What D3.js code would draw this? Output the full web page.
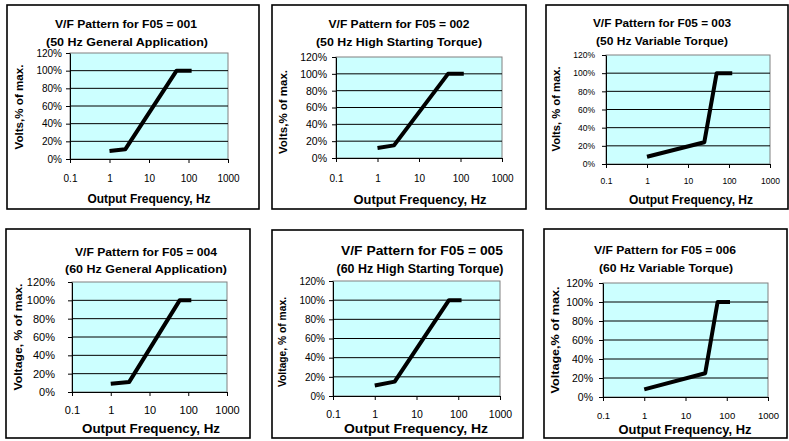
<!DOCTYPE html>
<html><head><meta charset="utf-8">
<script src="https://cdn.jsdelivr.net/npm/d3@7"></script>
<style>
body{margin:0;background:#fff}
text{font-family:"Liberation Sans",Arial,sans-serif}
</style>
</head><body>
<svg id="c" width="789" height="441"></svg>
<script>
// ---------- data ----------
const freqTicks = [0.1, 1, 10, 100, 1000];
const voltTicks = [0, 0.2, 0.4, 0.6, 0.8, 1.0, 1.2];
const patternCodes = ["001", "002", "003", "004", "005", "006"];
const subtitles = ["(50 Hz General Application)", "(50 Hz High Starting Torque)", "(50 Hz Variable Torque)",
                   "(60 Hz General Application)", "(60 Hz High Starting Torque)", "(60 Hz Variable Torque)"];
const yTitles = ["Volts,% of max.", "Volts,% of max.", "Volts, % of max.",
                 "Voltage, % of max.", "Voltage, % of max.", "Voltage,% of max."];
const xTitle = "Output Frequency, Hz";

const hz001 = [1, 2.5, 50, 120], volt001 = [0.09, 0.11, 1.0, 1.0];
const hz002 = [1, 2.5, 50, 120], volt002 = [0.12, 0.15, 1.0, 1.0];
const hz003 = [1, 25, 50, 120],  volt003 = [0.08, 0.24, 1.0, 1.0];
const hz004 = [1, 3, 60, 120],   volt004 = [0.09, 0.11, 1.0, 1.0];
const hz005 = [1, 3, 60, 120],   volt005 = [0.11, 0.15, 1.0, 1.0];
const hz006 = [1, 30, 60, 120],  volt006 = [0.08, 0.25, 1.0, 1.0];
const seriesHz = [hz001, hz002, hz003, hz004, hz005, hz006];
const seriesVolt = [volt001, volt002, volt003, volt004, volt005, volt006];

// ---------- layout (pixels) ----------
const layouts = [
 {box:[7,5,259,209], plot:[70,53,228,159], t1:[126,28,142,11], t2:[127,46,162,11], xt:[149,203,123,12], yl:[23,107,85], tb:182, tf:10, tr:62, yf:10},
 {box:[272,5,526,209], plot:[336,57,502,158], t1:[399,28,141,11], t2:[399,46,166,11], xt:[420,204,133,12.5], yl:[287,112,84], tb:182, tf:10, tr:327, yf:10.5},
 {box:[546,5,788,209], plot:[606,55,770,164], t1:[662,27,138,11], t2:[662,45,132,11], xt:[691,204,124,12], yl:[560,109,85], tb:184, tf:8.5, tr:595, yf:8.5},
 {box:[6,229,250,438], plot:[72,282,227,392], t1:[146,256,142,11], t2:[146,273,162,11], xt:[151,433,138,13], yl:[22,337,107], tb:414, tf:11, tr:55, yf:11},
 {box:[272,230,523,438], plot:[333,281,500,396], t1:[422,255,162,12.5], t2:[420,273,167,12], xt:[416,433,144,13.5], yl:[286,342,90], tb:418, tf:10.5, tr:325, yf:10},
 {box:[544,229,787,438], plot:[603,283,768,397], t1:[665,254,142,11], t2:[666,272,134,11], xt:[685,434,133,13.5], yl:[559,340,107], tb:419, tf:9.5, tr:593, yf:10.5}
];

const svg = d3.select("#c");

layouts.forEach((L, i) => {
  const g = svg.append("g");
  const [bx0, by0, bx1, by1] = L.box;
  const [px0, py0, px1, py1] = L.plot;

  g.append("rect").attr("x", bx0).attr("y", by0).attr("width", bx1 - bx0).attr("height", by1 - by0)
    .attr("fill", "#fff").attr("stroke", "#000").attr("stroke-width", 1.6);

  const x = d3.scaleLog().domain([0.1, 1000]).range([px0, px1]);
  const y = d3.scaleLinear().domain([0, 1.2]).range([py1, py0]);

  g.append("rect").attr("x", px0).attr("y", py0).attr("width", px1 - px0).attr("height", py1 - py0)
    .attr("fill", "#ccffff").attr("stroke", "#808080").attr("stroke-width", 1);

  // gridlines
  g.append("g").selectAll("line").data(voltTicks.filter(v => v > 0 && v < 1.2)).join("line")
    .attr("x1", px0).attr("x2", px1).attr("y1", d => y(d)).attr("y2", d => y(d))
    .attr("stroke", "#000").attr("stroke-width", 1);

  // y axis
  const yAx = g.append("g").attr("transform", `translate(${px0},0)`)
    .call(d3.axisLeft(y).tickValues(voltTicks).tickFormat(d3.format(".0%")).tickSize(4).tickSizeOuter(0).tickPadding(px0 - L.tr - 4));
  yAx.selectAll("text").attr("font-size", L.yf).attr("fill", "#000").attr("font-family", '"Liberation Sans",Arial,sans-serif');
  yAx.selectAll("line,path").attr("stroke", "#000");

  // x axis
  const xAx = g.append("g").attr("transform", `translate(0,${py1})`)
    .call(d3.axisBottom(x).tickValues(freqTicks).tickFormat(d => String(d)).tickSize(4).tickSizeOuter(0)
      .tickPadding(L.tb - py1 - 4 - 0.71 * L.tf));
  xAx.selectAll("text").attr("font-size", L.tf).attr("fill", "#000").attr("font-family", '"Liberation Sans",Arial,sans-serif');
  xAx.selectAll("line,path").attr("stroke", "#000");

  // data line
  const pts = seriesHz[i].map((h, k) => [h, seriesVolt[i][k]]);
  g.append("path").datum(pts)
    .attr("d", d3.line().x(d => x(d[0])).y(d => y(d[1])))
    .attr("fill", "none").attr("stroke", "#000").attr("stroke-width", 4)
    .attr("stroke-linejoin", "round").attr("stroke-linecap", "butt");

  // titles
  const addText = (txt, cx, base, w, fs, rot) => {
    const t = g.append("text").text(txt).attr("font-weight", "bold").attr("font-size", fs)
      .attr("text-anchor", "middle").attr("textLength", w).attr("lengthAdjust", "spacingAndGlyphs");
    if (rot) t.attr("transform", `translate(${cx},${base}) rotate(-90)`);
    else t.attr("x", cx).attr("y", base);
    return t;
  };
  addText("V/F Pattern for F05 = " + patternCodes[i], L.t1[0], L.t1[1], L.t1[2], L.t1[3]);
  addText(subtitles[i], L.t2[0], L.t2[1], L.t2[2], L.t2[3]);
  addText(xTitle, L.xt[0], L.xt[1], L.xt[2], L.xt[3]);
  addText(yTitles[i], L.yl[0], L.yl[1], L.yl[2], 11.5, true);
});
</script>
</body></html>
